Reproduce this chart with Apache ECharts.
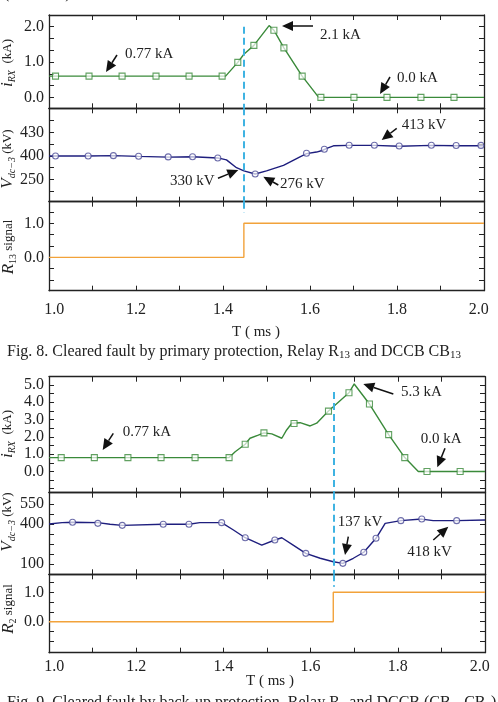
<!DOCTYPE html>
<html>
<head>
<meta charset="utf-8">
<script src="https://cdn.jsdelivr.net/npm/echarts@6/dist/echarts.min.js"></script>
<style>
html, body { margin: 0; padding: 0; background: #fff; }
#main { width: 498px; height: 702px; }
</style>
</head>
<body>
<div id="main"></div>
<script>
// ---- Fig. 8 (primary protection, R13) ----
var cur8T = [1.0, 1.406, 1.434, 1.448, 1.471, 1.506, 1.517, 1.540, 1.582, 1.620, 2.0];
var cur8V = [0.60, 0.60, 0.99, 1.22, 1.47, 2.03, 1.90, 1.40, 0.60, 0.0, 0.0];
var cur8MarkT = [1.015, 1.092, 1.168, 1.246, 1.322, 1.398, 1.434, 1.471, 1.517, 1.540, 1.582, 1.625, 1.701, 1.777, 1.855, 1.931];
var cur8MarkV = [0.6, 0.6, 0.6, 0.6, 0.6, 0.6, 0.99, 1.47, 1.90, 1.40, 0.60, 0, 0, 0, 0, 0];

var vol8T = [1.0, 1.015, 1.09, 1.148, 1.206, 1.274, 1.33, 1.388, 1.408, 1.431, 1.448, 1.474, 1.50, 1.539, 1.577, 1.592, 1.615, 1.628, 1.640, 1.654, 1.69, 1.748, 1.805, 1.879, 1.936, 2.0];
var vol8V = [400, 400, 400, 400.5, 399.5, 398.5, 399, 397.5, 395, 385, 381, 377, 381, 388, 399, 403, 405, 407, 410, 413, 413.5, 413.5, 412.5, 413.5, 413, 413];
var vol8MarkT = [1.015, 1.090, 1.148, 1.206, 1.274, 1.330, 1.388, 1.474, 1.592, 1.633, 1.690, 1.748, 1.805, 1.879, 1.936, 1.993];
var vol8MarkV = [400, 400, 400.4, 399.6, 398.8, 399.1, 397.4, 376.9, 403.4, 408.6, 413.7, 413.7, 412.8, 413.7, 413.3, 413.5];

var sig8T = [1.0, 1.448, 1.448, 2.0];
var sig8V = [0, 0, 1, 1];
var fault8 = 1.448;

// ---- Fig. 9 (back-up protection, R2) ----
var cur9T = [1.0, 1.413, 1.427, 1.450, 1.461, 1.480, 1.493, 1.511, 1.534, 1.545, 1.557, 1.576, 1.599, 1.614, 1.641, 1.654, 1.688, 1.700, 1.735, 1.779, 1.816, 1.847, 2.0];
var cur9V = [0.8, 0.8, 1.14, 1.57, 1.92, 2.1, 2.23, 2.17, 1.92, 2.4, 2.79, 2.82, 2.63, 2.79, 3.49, 3.79, 4.55, 5.06, 3.90, 2.13, 0.80, 0, 0];
var cur9MarkT = [1.028, 1.104, 1.181, 1.257, 1.335, 1.413, 1.450, 1.493, 1.562, 1.641, 1.688, 1.735, 1.779, 1.816, 1.867, 1.943];
var cur9MarkV = [0.8, 0.8, 0.8, 0.8, 0.8, 0.8, 1.57, 2.23, 2.77, 3.49, 4.55, 3.90, 2.13, 0.80, 0, 0];

var vol9T = [1.0, 1.03, 1.054, 1.112, 1.14, 1.168, 1.262, 1.321, 1.346, 1.396, 1.423, 1.450, 1.488, 1.518, 1.534, 1.560, 1.589, 1.622, 1.652, 1.674, 1.698, 1.722, 1.750, 1.771, 1.807, 1.855, 1.881, 1.935, 2.0];
var vol9V = [400, 410, 413, 410, 398, 390, 398, 398, 410, 410, 355, 297, 242, 280, 297, 242, 180, 143, 117, 105, 143, 188, 293, 405, 425, 437, 425, 425, 430];
var vol9MarkT = [1.054, 1.112, 1.168, 1.262, 1.321, 1.396, 1.450, 1.518, 1.589, 1.674, 1.722, 1.750, 1.807, 1.855, 1.935];
var vol9MarkV = [413, 405, 390, 398, 398, 410, 297, 280, 180, 105, 188, 293, 425, 437, 425];

var sig9T = [1.0, 1.652, 1.652, 2.0];
var sig9V = [0, 0, 1, 1];
var fault9 = 1.653;

// tick labels
var xTicks = [1.1, 1.2, 1.3, 1.4, 1.5, 1.6, 1.7, 1.8, 1.9];
var xLabels = [1.012, 1.2, 1.4, 1.6, 1.8, 1.988];
var vol8LabelMap = { 430: '430', 400: '400', 370: '250' };

var FONT = '"Liberation Serif", "Times New Roman", serif';
var GREEN = '#3a8a3a', NAVY = '#1e1e7e', ORANGE = '#f2a23a', CYAN = '#3fb3e2', INK = '#222';

function zip(a, b) { return a.map(function (v, i) { return [v, b[i]]; }); }
function f1(v) { return (Math.round(v * 10) / 10).toFixed(1); }

var panels = [
  { top: 15, h: 93.3, right: 14, min: -0.31, max: 2.33, ticks: [0, 1/3, 2/3, 1, 4/3, 5/3, 2], labels: [0, 1, 2], fmt: f1 },
  { top: 108.3, h: 93.4, right: 14, min: 341.6, max: 460.9, ticks: [355, 370, 385, 400, 415, 430, 445], labels: [370, 400, 430], fmt: function (v) { return vol8LabelMap[Math.round(v)] || ''; } },
  { top: 201.7, h: 89, right: 14, min: -0.98, max: 1.635, ticks: [-2/3, -1/3, 0, 1/3, 2/3, 1, 4/3], labels: [0, 1], fmt: f1, xlab: 11 },
  { top: 376.7, h: 116, right: 13, min: -1.23, max: 5.48, ticks: [-1, -0.5, 0, 0.5, 1, 1.5, 2, 2.5, 3, 3.5, 4, 4.5, 5], labels: [0, 1, 2, 3, 4, 5], fmt: f1 },
  { top: 492.7, h: 81.6, right: 13, min: 22.7, max: 634.8, ticks: [100, 175, 250, 325, 400, 475, 550], labels: [100, 400, 550], fmt: function (v) { return String(Math.round(v)); } },
  { top: 574.3, h: 78.4, right: 13, min: -1.054, max: 1.612, ticks: [-2/3, -1/3, 0, 1/3, 2/3, 1, 4/3], labels: [0, 1], fmt: f1, xlab: 6 }
];

var grid = [], xAxis = [], yAxis = [];
var lineStyleAxis = { color: INK, width: 1.3 };
panels.forEach(function (p, i) {
  grid.push({ left: 49, right: p.right, top: p.top, height: p.h, containLabel: false, outerBoundsMode: 'none' });
  ['bottom', 'top'].forEach(function (pos) {
    xAxis.push({
      type: 'value', gridIndex: i, position: pos, min: 1, max: 2,
      axisLine: { show: true, onZero: false, lineStyle: lineStyleAxis },
      axisTick: { show: true, inside: true, length: 5, customValues: xTicks, lineStyle: { color: INK, width: 1 } },
      axisLabel: {
        show: pos === 'bottom' && !!p.xlab, margin: p.xlab || 8, customValues: xLabels,
        formatter: f1, color: INK, fontFamily: FONT, fontSize: 16
      },
      splitLine: { show: false }
    });
  });
  ['left', 'right'].forEach(function (pos) {
    yAxis.push({
      type: 'value', gridIndex: i, position: pos, min: p.min, max: p.max,
      axisLine: { show: true, onZero: false, lineStyle: lineStyleAxis },
      axisTick: { show: true, inside: true, length: 5, customValues: p.ticks, lineStyle: { color: INK, width: 1 } },
      axisLabel: {
        show: pos === 'left', margin: 5, customValues: p.labels, formatter: p.fmt,
        color: INK, fontFamily: FONT, fontSize: 16
      },
      splitLine: { show: false }
    });
  });
});

function dashed(x, y1, y2) {
  return {
    silent: true, symbol: 'none', animation: false,
    label: { show: false },
    lineStyle: { type: [7, 4], color: CYAN, width: 2 },
    data: [[{ coord: [x, y1] }, { coord: [x, y2] }]]
  };
}

function curve(i, t, v, color, ml) {
  var s = {
    type: 'line', xAxisIndex: 2 * i, yAxisIndex: 2 * i, data: zip(t, v),
    showSymbol: false, symbol: 'none', lineStyle: { color: color, width: 1.4 }, z: 3
  };
  if (ml) s.markLine = ml;
  return s;
}
function marks(i, t, v, shape, color) {
  return {
    type: 'scatter', xAxisIndex: 2 * i, yAxisIndex: 2 * i, data: zip(t, v),
    symbol: shape, symbolSize: 6,
    itemStyle: { color: 'rgba(255,255,255,0.85)', borderColor: color, borderWidth: 1.1 }, z: 4
  };
}

var series = [
  curve(0, cur8T, cur8V, GREEN, dashed(fault8, 2.0, -0.31)),
  marks(0, cur8MarkT, cur8MarkV, 'rect', GREEN),
  curve(1, vol8T, vol8V, NAVY, dashed(fault8, 460.9, 341.6)),
  marks(1, vol8MarkT, vol8MarkV, 'circle', '#4a4a96'),
  curve(2, sig8T, sig8V, ORANGE, dashed(fault8, 1.635, 1.3)),
  curve(3, cur9T, cur9V, GREEN, dashed(fault9, 4.6, -1.23)),
  marks(3, cur9MarkT, cur9MarkV, 'rect', GREEN),
  curve(4, vol9T, vol9V, NAVY, dashed(fault9, 634.8, 22.7)),
  marks(4, vol9MarkT, vol9MarkV, 'circle', '#4a4a96'),
  curve(5, sig9T, sig9V, ORANGE, dashed(fault9, 1.612, 1.19))
];

// ---- annotations (layout, pixels) ----
var notes = [
  { text: '0.77 kA', x: 125, y: 54, tail: [117, 55], tip: [106, 72] },
  { text: '2.1 kA', x: 320, y: 35, tail: [313, 26], tip: [282, 26] },
  { text: '0.0 kA', x: 397, y: 78, tail: [390, 77], tip: [380, 94] },
  { text: '413 kV', x: 401.7, y: 125, tail: [396.7, 128.3], tip: [381.7, 140] },
  { text: '330 kV', x: 170, y: 181, tail: [218, 178.3], tip: [238.3, 170] },
  { text: '276 kV', x: 280, y: 184.3, tail: [278.3, 185], tip: [263.3, 176.7] },
  { text: '0.77 kA', x: 122.7, y: 431.7, tail: [113.3, 433.3], tip: [102.7, 450] },
  { text: '5.3 kA', x: 401, y: 391.7, tail: [393.3, 394], tip: [363.3, 384] },
  { text: '0.0 kA', x: 420.7, y: 439, tail: [445, 448.3], tip: [437.3, 467.3] },
  { text: '137 kV', x: 337.7, y: 522.3, tail: [348.3, 536.7], tip: [345, 555] },
  { text: '418 kV', x: 407.3, y: 551.7, tail: [433.3, 540], tip: [448.3, 526.7] }
];

var graphic = [];
notes.forEach(function (n) {
  graphic.push({
    type: 'text', x: n.x, y: n.y, z: 10,
    style: { text: n.text, font: '15px ' + FONT, fill: INK, align: 'left', verticalAlign: 'middle', textAlign: 'left', textVerticalAlign: 'middle' }
  });
  var dx = n.tip[0] - n.tail[0], dy = n.tip[1] - n.tail[1];
  var len = Math.sqrt(dx * dx + dy * dy), ux = dx / len, uy = dy / len;
  var hl = 11, hw = 5;
  var bx = n.tip[0] - ux * hl, by = n.tip[1] - uy * hl;
  graphic.push({
    type: 'line', z: 10,
    shape: { x1: n.tail[0], y1: n.tail[1], x2: bx, y2: by },
    style: { stroke: '#111', lineWidth: 1.5 }
  });
  graphic.push({
    type: 'polygon', z: 10,
    shape: { points: [n.tip, [bx - uy * hw, by + ux * hw], [bx + uy * hw, by - ux * hw]] },
    style: { fill: '#111' }
  });
});

var nameRich = {
  i: { fontFamily: FONT, fontStyle: 'italic', fontSize: 17, fill: INK, color: INK },
  s: { fontFamily: FONT, fontStyle: 'italic', fontSize: 10, fill: INK, color: INK, verticalAlign: 'bottom', lineHeight: 10 },
  s2: { fontFamily: FONT, fontSize: 10, fill: INK, color: INK, verticalAlign: 'bottom', lineHeight: 10 },
  n: { fontFamily: FONT, fontSize: 13, fill: INK, color: INK }
};
var yNames = [
  { text: '{i|i}{s|RX}{n|  (kA)}', x: 8, y: 63 },
  { text: '{i|V}{s|dc\u22123}{n| (kV)}', x: 8, y: 159 },
  { text: '{i|R}{s2|13}{n| signal}', x: 9, y: 247 },
  { text: '{i|i}{s|RX}{n|  (kA)}', x: 8, y: 434 },
  { text: '{i|V}{s|dc\u22123}{n| (kV)}', x: 8, y: 522 },
  { text: '{i|R}{s2|2}{n| signal}', x: 9, y: 609 }
];
yNames.forEach(function (n) {
  graphic.push({
    type: 'text', x: n.x, y: n.y, rotation: Math.PI / 2, z: 10,
    style: { text: n.text, rich: nameRich, align: 'center', verticalAlign: 'middle', textAlign: 'center', textVerticalAlign: 'middle', lineHeight: 18 }
  });
});

var capRich = {
  n: { fontFamily: FONT, fontSize: 16, fill: INK, color: INK },
  s: { fontFamily: FONT, fontSize: 11, fill: INK, color: INK, verticalAlign: 'bottom', lineHeight: 10 }
};
[
  { text: 'T ( ms )', x: 256, y: 331.7, size: 15 },
  { text: 'T ( ms )', x: 270, y: 681, size: 15 }
].forEach(function (t) {
  graphic.push({
    type: 'text', x: t.x, y: t.y, z: 10,
    style: { text: t.text, font: t.size + 'px ' + FONT, fill: INK, align: 'center', verticalAlign: 'middle', textAlign: 'center', textVerticalAlign: 'middle' }
  });
});
[
  { text: '{n|Fig. 8. Cleared fault by primary protection, Relay R}{s|13}{n| and DCCB CB}{s|13}', x: 7, y: 352 },
  { text: '{n|Fig. 9. Cleared fault by back-up protection, Relay R}{s|2}{n| and DCCB (CB}{s|1}{n|, CB}{s|2}{n|)}', x: 7, y: 703 },
  { text: '{n|(              )}', x: 4, y: -6 }
].forEach(function (c) {
  graphic.push({
    type: 'text', x: c.x, y: c.y, z: 10,
    style: { text: c.text, rich: capRich, align: 'left', verticalAlign: 'middle', textAlign: 'left', textVerticalAlign: 'middle', lineHeight: 18 }
  });
});

var chart = echarts.init(document.getElementById('main'), null, { renderer: 'canvas' });
chart.setOption({
  backgroundColor: '#fff',
  animation: false,
  grid: grid,
  xAxis: xAxis,
  yAxis: yAxis,
  series: series,
  graphic: graphic
});
</script>
</body>
</html>
